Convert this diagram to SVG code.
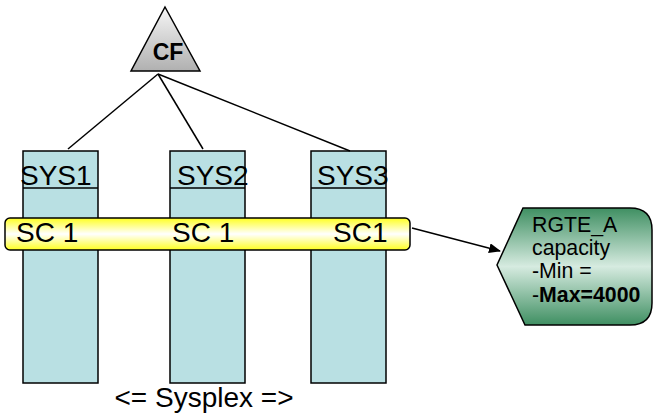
<svg xmlns="http://www.w3.org/2000/svg" width="653" height="418" viewBox="0 0 653 418">
<defs>
<linearGradient id="gTri" x1="0" y1="0" x2="0" y2="1">
<stop offset="0" stop-color="#f6f6f6"/>
<stop offset="1" stop-color="#b0b0b0"/>
</linearGradient>
<linearGradient id="gBar" x1="0" y1="0" x2="0" y2="1">
<stop offset="0" stop-color="#ffff20"/>
<stop offset="0.5" stop-color="#ffffff"/>
<stop offset="1" stop-color="#ffff20"/>
</linearGradient>
<linearGradient id="gHex" x1="0" y1="0" x2="0" y2="1">
<stop offset="0" stop-color="#3f8f62"/>
<stop offset="0.5" stop-color="#d6ebe0"/>
<stop offset="1" stop-color="#3f8f62"/>
</linearGradient>
<marker id="arr" markerWidth="12" markerHeight="10" refX="11" refY="5" orient="auto" markerUnits="userSpaceOnUse">
<path d="M0,0 L12,5 L0,10 Z" fill="#000"/>
</marker>
<style>
.col{fill:#b9e0e3;stroke:#000;stroke-width:1.5}
.t{font-family:"Liberation Sans",Arial,sans-serif;fill:#000}
.big{font-size:28px}
.small{font-size:21.3px}
.ln{stroke:#000;stroke-width:1.5;fill:none}
</style>
</defs>
<rect width="653" height="418" fill="#fff"/>
<g id="SYS1">
<rect class="col" x="23" y="151" width="75" height="232"/>
<line class="ln" x1="23" y1="188" x2="98" y2="188"/>
<text class="t big" x="20" y="185">SYS1</text>
</g>
<g id="SYS2">
<rect class="col" x="170" y="151" width="75" height="232"/>
<line class="ln" x1="170" y1="188" x2="245" y2="188"/>
<text class="t big" x="177" y="185">SYS2</text>
</g>
<g id="SYS3">
<rect class="col" x="311" y="151" width="75" height="232"/>
<line class="ln" x1="311" y1="188" x2="386" y2="188"/>
<text class="t big" x="317" y="185">SYS3</text>
</g>
<g id="SC">
<rect x="5" y="218" width="405" height="32" rx="5" fill="url(#gBar)" stroke="#000" stroke-width="1.5"/>
<text class="t big" x="16" y="242">SC 1</text>
<text class="t big" x="172" y="242">SC 1</text>
<text class="t big" x="333" y="242">SC1</text>
</g>
<g id="CF">
<polygon points="165,7 200,71 131,71" fill="url(#gTri)" stroke="#000" stroke-width="1.5"/>
<text class="t" x="168" y="60" text-anchor="middle" font-size="23" font-weight="bold">CF</text>
</g>
<g id="RGTE_A">
<path d="M523,208 L630,208 Q652,208 652,230 L652,303 Q652,325 630,325 L525,325 L497,265 Z" fill="url(#gHex)" stroke="#000" stroke-width="1.5"/>
<text class="t small" x="532" y="232">RGTE_A</text>
<text class="t small" x="532" y="255">capacity</text>
<text class="t small" x="532" y="278">-Min =</text>
<text class="t small" x="532" y="302">-<tspan font-weight="bold">Max=4000</tspan></text>
</g>
<g id="connectors">
<line class="ln" x1="158" y1="74" x2="68" y2="149"/>
<line class="ln" x1="158" y1="74" x2="203" y2="149"/>
<line class="ln" x1="158" y1="74" x2="350" y2="151"/>
<line class="ln" x1="412" y1="228" x2="500" y2="251" marker-end="url(#arr)"/>
</g>
<text class="t big" x="204" y="407" text-anchor="middle">&lt;= Sysplex =&gt;</text>
</svg>
